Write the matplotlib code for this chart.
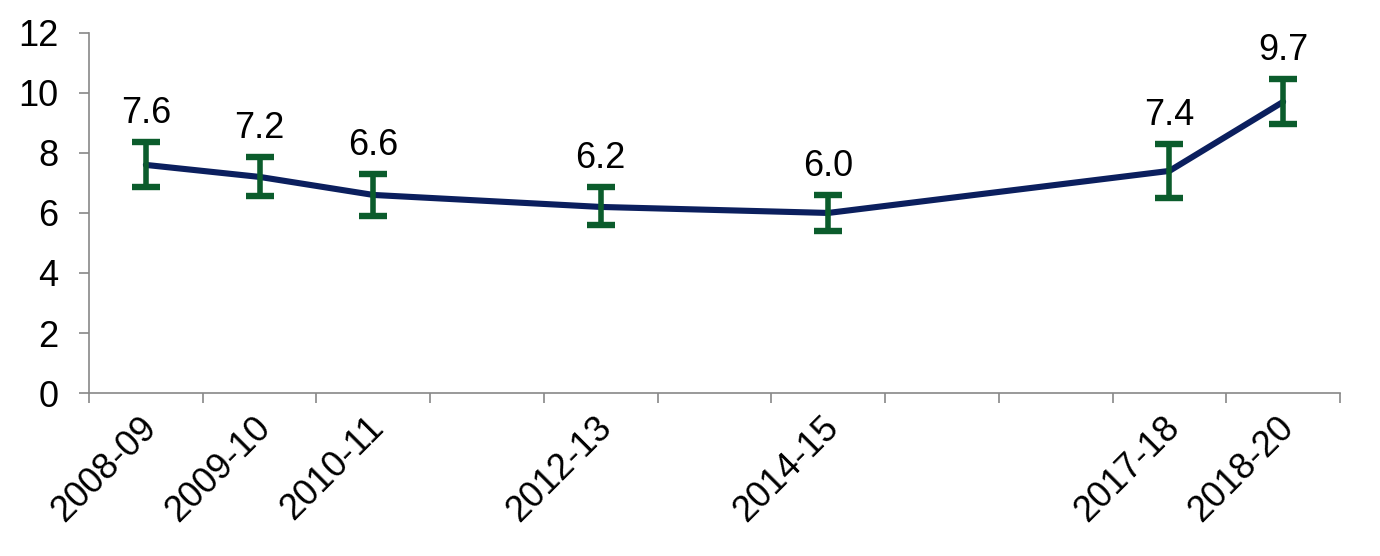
import matplotlib.pyplot as plt
import matplotlib.transforms as mtransforms
import numpy as np

plt.rcParams['font.family'] = ['Liberation Sans', 'DejaVu Sans']

# all categories on the axis (blank ones have no data)
categories = ['2008-09', '2009-10', '2010-11', '2011-12', '2012-13', '2013-14',
              '2014-15', '2015-16', '2016-17', '2017-18', '2018-20']
data_cats = ['2008-09', '2009-10', '2010-11', '2012-13', '2014-15', '2017-18', '2018-20']
values = [7.6, 7.2, 6.6, 6.2, 6.0, 7.4, 9.7]
lower = [6.85, 6.55, 5.9, 5.6, 5.4, 6.5, 8.95]
upper = [8.35, 7.85, 7.3, 6.85, 6.6, 8.3, 10.45]

xpos = np.array([categories.index(c) for c in data_cats])
vals = np.array(values)
yerr = np.array([vals - np.array(lower), np.array(upper) - vals])

fig = plt.figure(figsize=(13.8, 5.56), dpi=100)
ax = fig.add_axes([0.0645, 0.293, 0.9065, 0.648])

ax.plot(xpos, vals, color='#0b1f5e', lw=4.4, zorder=2, solid_capstyle='round')
ax.errorbar(xpos, vals, yerr=yerr, fmt='none', ecolor='#0b5c2c',
            elinewidth=4, capsize=10, capthick=4.6, zorder=3)

for x, v, up in zip(xpos, vals, upper):
    ax.annotate(f'{v:.1f}', (x, up), xytext=(0, 8), textcoords='offset points',
                ha='center', va='bottom', fontsize=26)

ax.set_xlim(-0.5, len(categories) - 0.5)
ax.set_ylim(0, 12)
ax.set_yticks(np.arange(0, 13, 2))
ax.tick_params(axis='y', labelsize=26, length=7, width=1.2, color='#888888', pad=15)

# ticks at category boundaries, labels at centers
ax.set_xticks(np.arange(-0.5, len(categories), 1))
ax.set_xticklabels([])
ax.tick_params(axis='x', which='major', length=7, width=1.2, color='#888888')
ax.set_xticks(xpos, minor=True)
ax.set_xticklabels(data_cats, minor=True, rotation=45, ha='right', va='top',
                   rotation_mode='anchor', fontsize=26)
ax.tick_params(axis='x', which='minor', length=0, pad=12)
offset = mtransforms.ScaledTranslation(-0.07, 0, fig.dpi_scale_trans)
for lbl in ax.get_xticklabels(minor=True):
    lbl.set_transform(lbl.get_transform() + offset)

for s in ['top', 'right']:
    ax.spines[s].set_visible(False)
for s in ['left', 'bottom']:
    ax.spines[s].set_color('#888888')
    ax.spines[s].set_linewidth(1.2)

fig.savefig('out.png', dpi=100)
